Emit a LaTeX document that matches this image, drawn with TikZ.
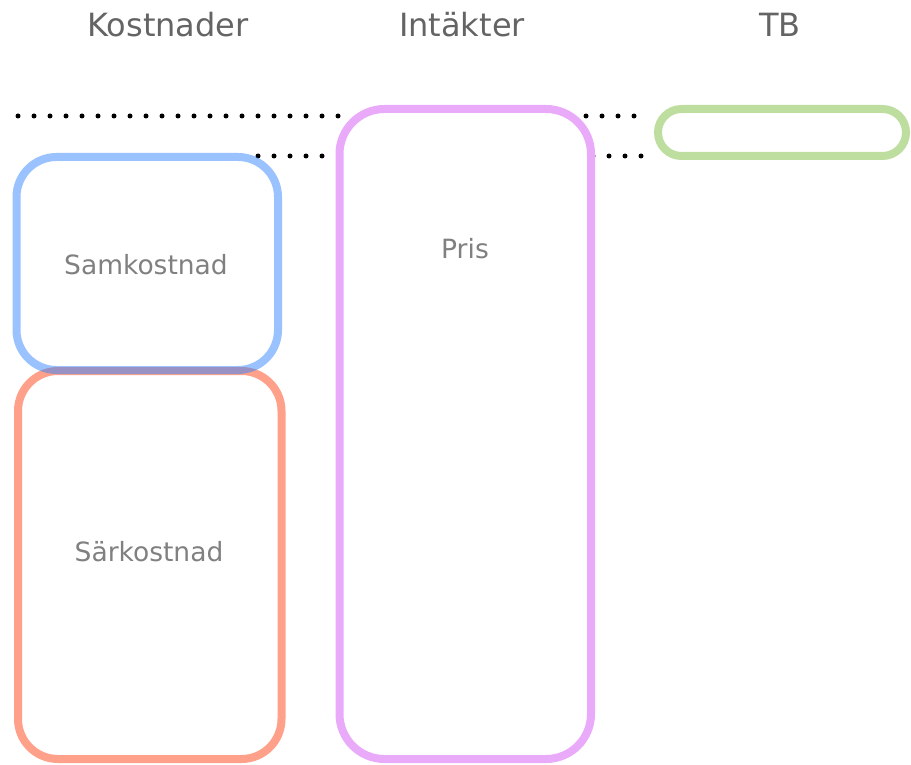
\documentclass[tikz,border=0pt]{standalone}
\usepackage{fontspec}
\setmainfont{DejaVu Sans}
\usetikzlibrary{positioning}
\definecolor{samblue}{RGB}{51,133,255}
\definecolor{sarred}{RGB}{255,160,138}
\definecolor{prispink}{RGB}{233,170,250}
\definecolor{tbgreen}{RGB}{190,222,160}
\definecolor{headgray}{RGB}{100,100,100}
\definecolor{textgray}{RGB}{128,128,128}
\tikzset{x = 1pt, y = -1pt,
  box/.style = {draw, line width = 8pt, rounded corners = 40pt, inner sep = 0pt,
    outer sep = 0pt, anchor = north west},
  head/.style = {text = headgray, font = \fontsize{32}{38}\selectfont},
  boxtext/.style = {text = textgray, font = \fontsize{26.5}{31}\selectfont},
  dots/.style = {line width = 5pt, line cap = round, dash pattern = on 0pt off 16pt}}

\begin{document}
\begin{tikzpicture}
  \useasboundingbox (0,0) rectangle (911,765);
  % headings
  \node [head] (kost) at (168,25) {Kostnader};
  \node [head] (intakt) at (462,25) {Intäkter};
  \node [head] (tb) at (780,25) {TB};
  % dotted levels
  \coordinate (d1a) at (18,116);
  \coordinate (d1b) at (338.5,116);
  \coordinate (d2a) at (586,116);
  \coordinate (d2b) at (634.5,116);
  \coordinate (d3a) at (258,156);
  \coordinate (d3b) at (322.5,156);
  \coordinate (d4a) at (593,156);
  \coordinate (d4b) at (641.5,156);
  \draw [dots] (d1a) -- (d1b);
  \draw [dots] (d2a) -- (d2b);
  \draw [dots] (d3a) -- (d3b);
  \draw [dots] (d4a) -- (d4b);
  % boxes
  \node [box, draw = sarred, minimum width = 263.5pt, minimum height = 388pt] (sar) at (18,371) {};
  \node [box, draw = samblue, draw opacity = 0.5, minimum width = 261.5pt, minimum height = 213pt] (sam) at (16.5,157) {};
  \node [box, draw = prispink, rounded corners = 45pt, minimum width = 251.5pt, minimum height = 650pt] (pris) at (339.5,109) {};
  \node [box, draw = tbgreen, rounded corners = 23.5pt, minimum width = 248pt, minimum height = 47pt] (tbbox) at (658,109) {};
  % labels
  \node [boxtext] (samtext) at (146,265) {Samkostnad};
  \node [boxtext] (sartext) at (149,552) {Särkostnad};
  \node [boxtext] (pristext) at (465,249) {Pris};
\end{tikzpicture}
\end{document}
